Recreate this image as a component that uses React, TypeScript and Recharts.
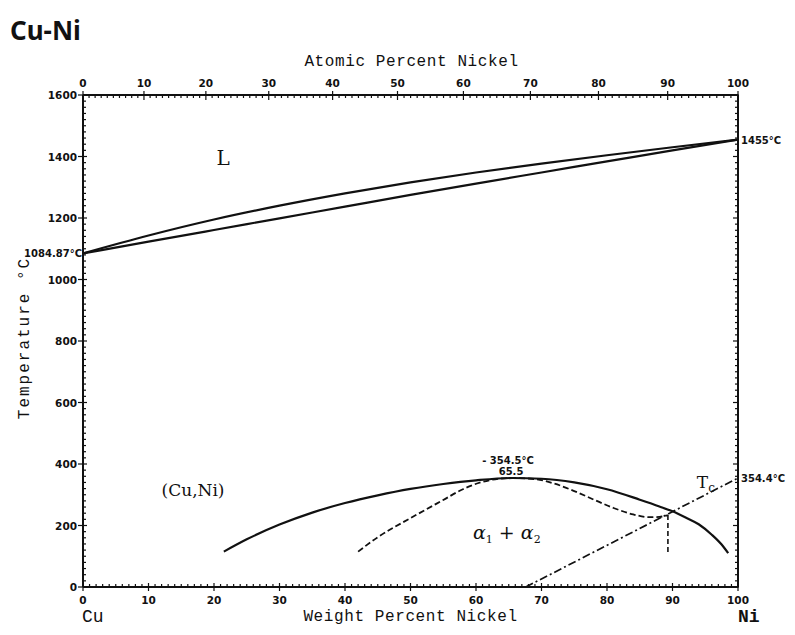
import React from 'react';
import { LineChart, Line, XAxis, YAxis, ReferenceDot } from 'recharts';

// atomic masses, used only to place the atomic-% scale over the weight-% scale
const CU_MASS = 63.546;
const NI_MASS = 58.6934;

// phase boundaries: w = wt% Ni, t = °C
const LIQUIDUS = [
  { w: 0, t: 1084.87 }, { w: 10, t: 1143 }, { w: 20, t: 1195 }, { w: 30, t: 1240 },
  { w: 40, t: 1280 }, { w: 50, t: 1316 }, { w: 60, t: 1348 }, { w: 70, t: 1377 },
  { w: 80, t: 1404 }, { w: 90, t: 1430 }, { w: 100, t: 1455 },
];
const SOLIDUS = [
  { w: 0, t: 1084.87 }, { w: 10, t: 1123 }, { w: 20, t: 1161 }, { w: 30, t: 1199 },
  { w: 40, t: 1237 }, { w: 50, t: 1275 }, { w: 60, t: 1312 }, { w: 70, t: 1348 },
  { w: 80, t: 1384 }, { w: 90, t: 1420 }, { w: 100, t: 1455 },
];
const MISCIBILITY_GAP = [
  { w: 21.5, t: 115 }, { w: 25, t: 155 }, { w: 30, t: 203 }, { w: 35, t: 242 },
  { w: 40, t: 273 }, { w: 45, t: 298 }, { w: 50, t: 319 }, { w: 55, t: 335 },
  { w: 60, t: 347 }, { w: 65.5, t: 354.5 }, { w: 70, t: 352 }, { w: 75, t: 340 },
  { w: 80, t: 318 }, { w: 85, t: 284 }, { w: 88, t: 262 }, { w: 90, t: 246 },
  { w: 92, t: 226 }, { w: 94, t: 204 }, { w: 96, t: 170 }, { w: 97.5, t: 138 },
  { w: 98.5, t: 110 },
];
const SPINODAL = [
  { w: 42, t: 115 }, { w: 45, t: 162 }, { w: 50, t: 224 }, { w: 55, t: 283 },
  { w: 58, t: 318 }, { w: 61, t: 342 }, { w: 65.5, t: 354.5 }, { w: 69, t: 351 },
  { w: 72, t: 336 }, { w: 75, t: 312 }, { w: 78, t: 284 }, { w: 81, t: 257 },
  { w: 84, t: 236 }, { w: 86.5, t: 227 }, { w: 88, t: 228 }, { w: 89.3, t: 234 },
];
const SPINODAL_DROP = [{ w: 89.3, t: 234 }, { w: 89.3, t: 110 }];
const CURIE_LINE = [{ w: 67.6, t: 0 }, { w: 100, t: 354.4 }];

// axis ticks
const WEIGHT_TICKS = Array.from({ length: 101 }, (_, i) => i);
const ATOMIC_TICKS = Array.from({ length: 101 }, (_, i) => i);
const TEMP_TICKS = Array.from({ length: 81 }, (_, i) => i * 20);

const atomicToWeight = (a: number) =>
  (100 * a * NI_MASS) / (a * NI_MASS + (100 - a) * CU_MASS);
const TOP_TICK_POS = ATOMIC_TICKS.map(atomicToWeight);

const INK = '#111';
const TICK_FONT = "'DejaVu Sans', sans-serif";
const MONO = "'Liberation Mono', 'DejaVu Sans Mono', monospace";
const SERIF = "'DejaVu Serif', 'Liberation Serif', serif";

function BottomTick({ x, y, index }: any) {
  const major = index % 10 === 0;
  return (
    <g>
      <line x1={x} x2={x} y1={major ? y - 4 : y - 3} y2={major ? y + 4 : y} stroke={INK} strokeWidth={1.2} />
      {major && (
        <text x={x} y={y + 17} textAnchor="middle" fontFamily={TICK_FONT} fontSize={10.5} fontWeight="bold" fill={INK}>
          {WEIGHT_TICKS[index]}
        </text>
      )}
    </g>
  );
}

function TopTick({ x, y, index }: any) {
  const major = index % 10 === 0;
  return (
    <g>
      <line x1={x} x2={x} y1={major ? y - 4 : y} y2={major ? y + 5 : y + 3} stroke={INK} strokeWidth={1.2} />
      {major && (
        <text x={x} y={y - 8} textAnchor="middle" fontFamily={TICK_FONT} fontSize={10.5} fontWeight="bold" fill={INK}>
          {ATOMIC_TICKS[index]}
        </text>
      )}
    </g>
  );
}

function LeftTick({ x, y, payload }: any) {
  const major = payload.value % 200 === 0;
  return (
    <g>
      <line x1={major ? x - 5 : x} x2={major ? x + 4 : x + 3} y1={y} y2={y} stroke={INK} strokeWidth={1.2} />
      {major && (
        <text x={x - 6} y={y + 4} textAnchor="end" fontFamily={TICK_FONT} fontSize={10.5} fontWeight="bold" fill={INK}>
          {payload.value}
        </text>
      )}
    </g>
  );
}

function RightTick({ x, y, payload }: any) {
  const major = payload.value % 200 === 0;
  return <line x1={major ? x - 5 : x - 3} x2={major ? x + 1 : x} y1={y} y2={y} stroke={INK} strokeWidth={1.2} />;
}

const smallBold = { fontFamily: TICK_FONT, fontSize: 10, fontWeight: 'bold' as const, fill: INK };

export default function App() {
  const axisLine = { stroke: INK, strokeWidth: 2 };
  const ids = { xAxisId: 'bottom', yAxisId: 'left' };
  return (
    <div style={{ position: 'absolute', left: 0, top: 0, width: 795, height: 635, background: '#fff' }}>
      <div style={{ position: 'absolute', left: 10, top: 12, fontFamily: "'Noto Sans', sans-serif", fontWeight: 700, fontSize: 26, color: INK }}>
        Cu-Ni
      </div>
      <div style={{ position: 'absolute', left: 0, width: 823, top: 53, textAlign: 'center', fontFamily: MONO, fontSize: 16, letterSpacing: 0.6, color: INK }}>
        Atomic Percent Nickel
      </div>
      <div style={{ position: 'absolute', left: 0, width: 821, top: 608, textAlign: 'center', fontFamily: MONO, fontSize: 16, letterSpacing: 0.6, color: INK }}>
        Weight Percent Nickel
      </div>
      <div style={{ position: 'absolute', left: 82, top: 607, fontFamily: MONO, fontSize: 18, color: INK }}>Cu</div>
      <div style={{ position: 'absolute', left: 738, top: 607, fontFamily: MONO, fontSize: 18, fontWeight: 'bold', color: INK }}>Ni</div>
      <div
        style={{
          position: 'absolute', left: 25, top: 338, transform: 'translate(-50%, -50%) rotate(-90deg)',
          whiteSpace: 'nowrap', fontFamily: MONO, fontSize: 16, letterSpacing: 2, color: INK,
        }}
      >
        Temperature °C
      </div>

      <LineChart width={795} height={635} margin={{ top: 75, right: 17, bottom: 28, left: 43 }}>
        <XAxis
          xAxisId="bottom" type="number" dataKey="w" domain={[0, 100]} ticks={WEIGHT_TICKS} interval={0}
          height={20} tickSize={0} tickMargin={0} axisLine={axisLine} tickLine={false} tick={<BottomTick />}
          allowDataOverflow
        />
        <XAxis
          xAxisId="top" orientation="top" type="number" dataKey="w" domain={[0, 100]} ticks={TOP_TICK_POS} interval={0}
          height={20} tickSize={0} tickMargin={0} axisLine={axisLine} tickLine={false} tick={<TopTick />}
          allowDataOverflow
        />
        <YAxis
          yAxisId="left" type="number" domain={[0, 1600]} ticks={TEMP_TICKS} interval={0}
          width={40} tickSize={0} tickMargin={0} axisLine={axisLine} tickLine={false} tick={<LeftTick />}
          allowDataOverflow
        />
        <YAxis
          yAxisId="right" orientation="right" type="number" domain={[0, 1600]} ticks={TEMP_TICKS} interval={0}
          width={40} tickSize={0} tickMargin={0} axisLine={axisLine} tickLine={false} tick={<RightTick />}
          allowDataOverflow
        />

        {/* liquid / solid two-phase lens */}
        <Line {...ids} data={LIQUIDUS} dataKey="t" type="monotone" stroke={INK} strokeWidth={2.2} dot={false} activeDot={false} isAnimationActive={false} />
        <Line {...ids} data={SOLIDUS} dataKey="t" type="monotone" stroke={INK} strokeWidth={2.2} dot={false} activeDot={false} isAnimationActive={false} />

        {/* low-temperature miscibility gap, spinodal and Curie line */}
        <Line {...ids} data={MISCIBILITY_GAP} dataKey="t" type="monotone" stroke={INK} strokeWidth={2.2} dot={false} activeDot={false} isAnimationActive={false} />
        <Line {...ids} data={SPINODAL} dataKey="t" type="monotone" stroke={INK} strokeWidth={1.8} strokeDasharray="6 3" dot={false} activeDot={false} isAnimationActive={false} />
        <Line {...ids} data={SPINODAL_DROP} dataKey="t" type="linear" stroke={INK} strokeWidth={1.6} strokeDasharray="5 3" dot={false} activeDot={false} isAnimationActive={false} />
        <Line {...ids} data={CURIE_LINE} dataKey="t" type="linear" stroke={INK} strokeWidth={1.7} strokeDasharray="8 3 2 3" dot={false} activeDot={false} isAnimationActive={false} />

        {/* labels */}
        <ReferenceDot {...ids} x={0} y={1084.87} r={0}
          shape={(p: any) => <text x={p.cx - 1} y={p.cy + 4} textAnchor="end" {...smallBold}>1084.87°C</text>} />
        <ReferenceDot {...ids} x={100} y={1455} r={0}
          shape={(p: any) => <text x={p.cx + 3} y={p.cy + 4} {...smallBold}>1455°C</text>} />
        <ReferenceDot {...ids} x={100} y={354.4} r={0}
          shape={(p: any) => <text x={p.cx + 3} y={p.cy + 4} {...smallBold}>354.4°C</text>} />
        <ReferenceDot {...ids} x={65.5} y={354.5} r={0}
          shape={(p: any) => (
            <g>
              <text x={p.cx - 4} y={p.cy - 14} textAnchor="middle" {...smallBold}>- 354.5°C</text>
              <text x={p.cx - 1} y={p.cy - 3} textAnchor="middle" {...smallBold}>65.5</text>
            </g>
          )} />
        <ReferenceDot {...ids} x={21.4} y={1395} r={0}
          shape={(p: any) => <text x={p.cx} y={p.cy + 7} textAnchor="middle" fontFamily={SERIF} fontSize={20} fill={INK}>L</text>} />
        <ReferenceDot {...ids} x={16.8} y={315} r={0}
          shape={(p: any) => <text x={p.cx} y={p.cy + 6} textAnchor="middle" fontFamily={SERIF} fontSize={17} fill={INK}>(Cu,Ni)</text>} />
        <ReferenceDot {...ids} x={64.7} y={175} r={0}
          shape={(p: any) => (
            <text x={p.cx} y={p.cy + 6} textAnchor="middle" fontFamily={SERIF} fontSize={19} fill={INK}>
              <tspan fontStyle="italic">α</tspan>
              <tspan fontSize={11} dy={4}>1</tspan>
              <tspan dy={-4}> + </tspan>
              <tspan fontStyle="italic">α</tspan>
              <tspan fontSize={11} dy={4}>2</tspan>
            </text>
          )} />
        <ReferenceDot {...ids} x={95.1} y={335} r={0}
          shape={(p: any) => (
            <text x={p.cx} y={p.cy + 4} textAnchor="middle" fontFamily={SERIF} fontSize={17} fill={INK}>
              T<tspan fontSize={12} dy={4}>c</tspan>
            </text>
          )} />
      </LineChart>
    </div>
  );
}
